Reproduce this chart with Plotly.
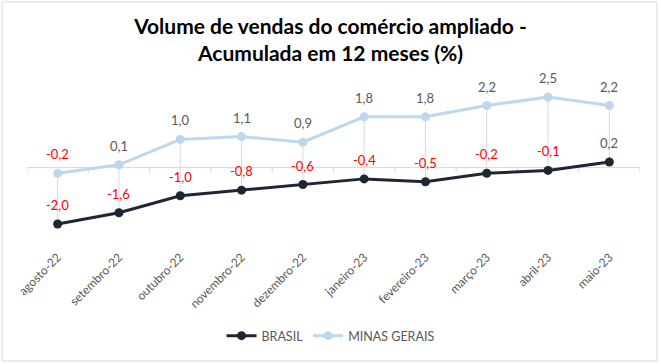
import plotly.graph_objects as go

categorias = ["agosto-22", "setembro-22", "outubro-22", "novembro-22", "dezembro-22",
              "janeiro-23", "fevereiro-23", "março-23", "abril-23", "maio-23"]
brasil = [-2.0, -1.6, -1.0, -0.8, -0.6, -0.4, -0.5, -0.2, -0.1, 0.2]
minas_gerais = [-0.2, 0.1, 1.0, 1.1, 0.9, 1.8, 1.8, 2.2, 2.5, 2.2]

titulo = "<b>Volume de vendas do comércio ampliado -<br>Acumulada em 12 meses (%)</b>"
FONT = "Lato"
COR_BR = "#1f2633"
COR_MG = "#bdd7ee"
GRID = "#d9d9d9"
CINZA = "#595959"

W, H = 661, 364
L, R, T, B = 27, 21, 80, 129
Y_RANGE = [-2.39, 3.106]
px_per_unit = (H - T - B) / (Y_RANGE[1] - Y_RANGE[0])
n = len(categorias)

fig = go.Figure()

# high-low lines
hx, hy = [], []
for c, a, b in zip(categorias, brasil, minas_gerais):
    hx += [c, c, None]
    hy += [min(a, b), max(a, b), None]
fig.add_trace(go.Scatter(x=hx, y=hy, mode="lines", line=dict(color=GRID, width=1),
                         showlegend=False, hoverinfo="skip"))

fig.add_trace(go.Scatter(x=categorias, y=brasil, name="BRASIL", mode="lines+markers",
                         line=dict(color=COR_BR, width=3), marker=dict(size=9, color=COR_BR)))
fig.add_trace(go.Scatter(x=categorias, y=minas_gerais, name="MINAS GERAIS", mode="lines+markers",
                         line=dict(color=COR_MG, width=3), marker=dict(size=9, color=COR_MG)))

annots = []
for serie in (brasil, minas_gerais):
    for c, v in zip(categorias, serie):
        annots.append(dict(x=c, y=v, text=f"{v:.1f}".replace(".", ","), showarrow=False,
                           yshift=19, font=dict(family=FONT, size=13,
                                                color="#ff0000" if v < 0 else CINZA)))

# zero axis line with tick marks between categories
shapes = [dict(type="line", xref="x", yref="y", x0=-0.5, x1=n - 0.5, y0=0, y1=0,
               line=dict(color=GRID, width=1), layer="below")]
tick_len = 5 / px_per_unit
for i in range(n + 1):
    shapes.append(dict(type="line", xref="x", yref="y", x0=i - 0.5, x1=i - 0.5,
                       y0=-tick_len, y1=0, line=dict(color=GRID, width=1), layer="below"))
# outer chart border
pw, ph = W - L - R, H - T - B
shapes.append(dict(type="rect", xref="paper", yref="paper",
                   x0=(2 - L) / pw, x1=(657 - L) / pw,
                   y0=-(361 - (H - B)) / ph, y1=1 + (T - 2) / ph,
                   line=dict(color=GRID, width=1), layer="below"))

fig.update_layout(
    width=W, height=H,
    margin=dict(l=L, r=R, t=T, b=B, autoexpand=False),
    paper_bgcolor="white", plot_bgcolor="white",
    title=dict(text=titulo, x=0.5, xref="container", xanchor="center", y=1 - 34 / H,
               yanchor="middle", automargin=False,
               font=dict(family=FONT, size=21, color="black")),
    xaxis=dict(type="category", range=[-0.5, n - 0.5], showgrid=False, automargin=False,
               showline=False, ticks="", tickangle=-45, ticklabelstandoff=12,
               tickfont=dict(family=FONT, size=12, color=CINZA)),
    yaxis=dict(range=Y_RANGE, showgrid=False, zeroline=False, showticklabels=False,
               showline=False, automargin=False),
    legend=dict(orientation="h", x=0.5, xanchor="center", xref="container", yref="container",
                y=1 - 336 / H, yanchor="middle", font=dict(family=FONT, size=12.5, color=CINZA)),
    shapes=shapes,
    annotations=annots,
    showlegend=True,
)

fig.write_html("out.html", config={"displayModeBar": False},
               post_script="document.body.style.margin='0';")
